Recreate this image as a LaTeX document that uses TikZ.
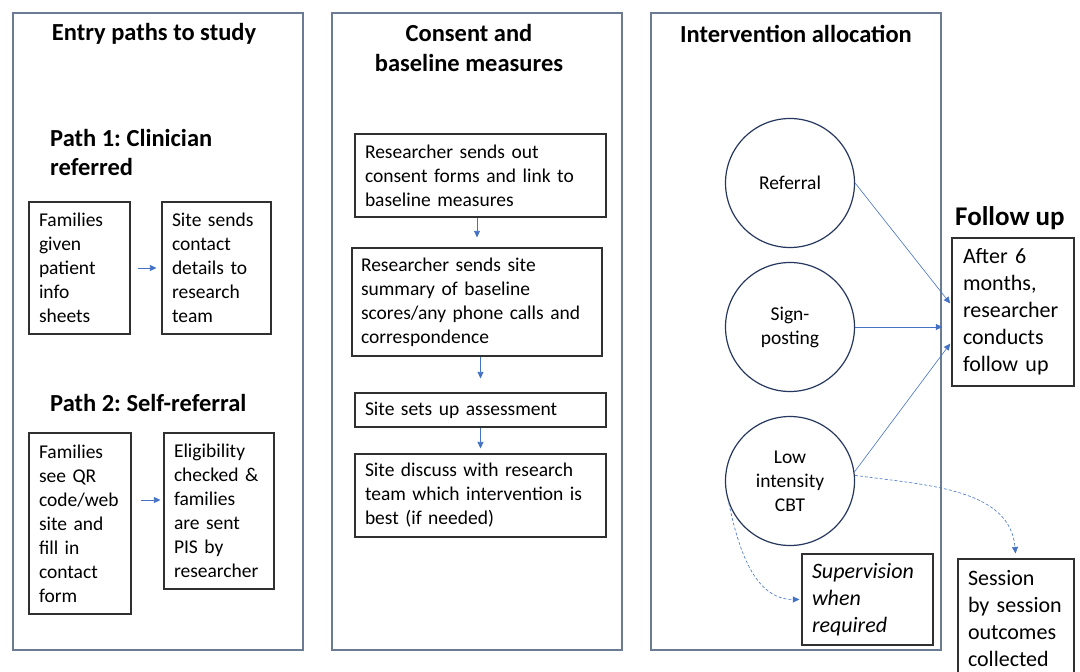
\documentclass[tikz,border=0pt]{standalone}
\usepackage{fontspec}
\setmainfont{Carlito}
\usetikzlibrary{arrows.meta,calc}
\definecolor{arrblue}{HTML}{4472C4}
\definecolor{panelc}{HTML}{6B7B93}
\definecolor{circc}{HTML}{26375E}
\definecolor{boxc}{HTML}{303030}
\frenchspacing
\begin{document}
\begin{tikzpicture}[x=1pt,y=-1pt,
  panel/.style={draw=panelc, line width=1.4pt},
  ttl/.style={font=\bfseries\fontsize{24.5}{30}\selectfont, align=center, inner sep=0pt},
  ttlleft/.style={font=\bfseries\fontsize{24.5}{29}\selectfont, align=left, inner sep=0pt, anchor=west},
  boxtext/.style={draw=boxc, line width=1.2pt, align=left, inner xsep=10pt, inner ysep=0pt, font=\fontsize{19.5}{24}\selectfont},
  bigbox/.style={boxtext, font=\fontsize{22}{27}\selectfont},
  circ/.style={circle, draw=circc, line width=1.2pt, minimum size=129pt, inner sep=0pt, align=center, font=\fontsize{19.5}{24}\selectfont},
  arr/.style={draw=arrblue, line width=0.8pt, -{Triangle[length=6.5pt,width=6pt]}},
  darr/.style={arr, dash pattern=on 3pt off 2pt},
]
\useasboundingbox (0,0) rectangle (1080,672);
\clip (0,0) rectangle (1080,672);
\fill[white] (0,0) rectangle (1080,672);

% panels
\draw[panel] (13,13) rectangle (303,650);
\draw[panel] (332,13) rectangle (622,650);
\draw[panel] (651,13) rectangle (941,650);

% titles
\node[ttl] (t1) at (154,34) {Entry paths to study};
\node[ttl] (t2) at (469,48) {Consent and\\baseline measures};
\node[ttl] (t3) at (796,34) {Intervention allocation};
\node[ttlleft] (p1) at (50,152.5) {Path 1: Clinician\\referred};
\node[ttlleft] (p2) at (50,403) {Path 2: Self-referral};
\node[font=\bfseries\fontsize{27}{32}\selectfont, inner sep=0pt, anchor=west] (fu) at (955,218) {Follow up};

% path boxes
\node[boxtext, text width=81pt, minimum height=132pt] (A1) at (79.5,268) {Families\\given\\patient\\info\\sheets};
\node[boxtext, text width=89pt, minimum height=132pt] (B1) at (216.5,268) {Site sends\\contact\\details to\\research\\team};
\node[boxtext, text width=82pt, minimum height=181pt] (A2) at (80,523.5) {Families\\see QR\\code/web\\site and\\fill in\\contact\\form};
\node[boxtext, text width=90pt, minimum height=156pt] (B2) at (219,511) {Eligibility\\checked \&\\families\\are sent\\PIS by\\researcher};

% consent boxes
\node[boxtext, text width=231pt, minimum height=83pt] (C1) at (480.5,175.5) {Researcher sends out\\consent forms and link to\\baseline measures};
\node[boxtext, inner xsep=9pt, text width=232pt, minimum height=108pt] (C2) at (477,302) {Researcher sends site\\summary of baseline\\scores/any phone calls and\\correspondence};
\node[boxtext, text width=231pt, minimum height=34pt] (C3) at (480.5,410) {Site sets up assessment};
\node[boxtext, text width=231pt, minimum height=83pt] (C4) at (480.5,495.5) {Site discuss with research\\team which intervention is\\best (if needed)};

% circles
\node[circ] (Ref) at (790,183) {Referral};
\node[circ] (Sign) at (790,327) {Sign-\\posting};
\node[circ] (Low) at (790,481) {Low\\intensity\\CBT};

% follow-up boxes
\node[bigbox, inner xsep=11pt, text width=100pt, minimum height=148pt] (F) at (1013,312) {After 6\\months,\\researcher\\conducts\\follow up};
\node[bigbox, text width=111pt, minimum height=91pt, font=\itshape\fontsize{22}{27}\selectfont] (Sup) at (867.5,599.5) {Supervision\\when\\required};
\node[bigbox, text width=96pt, minimum height=120pt] (Sess) at (1016,619) {Session\\by session\\outcomes\\collected};

% arrows
\draw[arr, shorten <=7pt, shorten >=5pt] (A1) -- (B1);
\draw[arr, shorten <=9pt, shorten >=3pt] ([yshift=23.5pt]A2.east) -- ([yshift=11pt]B2.west);
\draw[arr, shorten >=10pt] (C1.south -| C2.north) -- (C2.north);
\draw[arr, shorten >=14pt] (C2.south -| C3.north) -- (C3.north);
\draw[arr, shorten >=5pt] (C3.south -| C4.north) -- (C4.north);

\draw[arr, line width=0.6pt, shorten >=2pt] (Ref.east) -- ([yshift=7pt]F.west);
\draw[arr, line width=0.6pt, shorten >=9pt] (Sign.east) -- ([yshift=-15pt]F.west);
\draw[arr, line width=0.6pt, shorten >=2pt] (Low.8) -- ([yshift=-30pt]F.west);

\draw[darr, line width=0.6pt, shorten >=5pt] (Low.5) to[out=-8, in=95] (Sess.north);
\draw[darr, line width=0.6pt, shorten >=2pt] (Low.200) to[out=-78, in=180] (Sup.west);
\end{tikzpicture}
\end{document}
